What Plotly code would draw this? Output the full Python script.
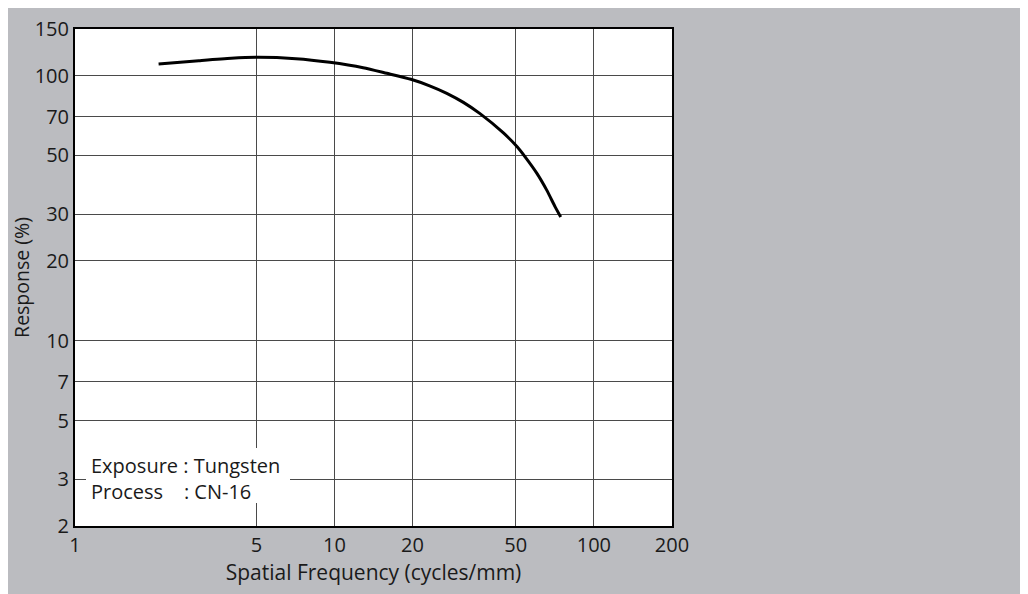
import plotly.graph_objects as go
import math

# Data
freq = [2.1, 3, 4, 5.1, 7.1, 9.6, 12.9, 15.9, 19.7, 23.4, 27.1, 31.4, 36.4, 44.8, 50.6, 54.3, 60.3, 65.8, 70.9, 74.5]
response = [110.7, 113.9, 116.3, 117.3, 115.9, 112.3, 107.2, 102.1, 96.9, 91.4, 85.8, 79.3, 71.9, 60.8, 53.9, 49.4, 42.8, 37.0, 32.0, 29.3]

x_ticks = [1, 5, 10, 20, 50, 100, 200]
y_ticks = [2, 3, 5, 7, 10, 20, 30, 50, 70, 100, 150]

note_lines = ["Exposure : Tungsten", "Process\u00a0\u00a0\u00a0\u00a0: CN-16"]

GRAY = "#bbbcc0"
FONT = "Open Sans"
TXT = "#1a1a1a"

W, H = 1028, 594
L, R, T, B = 67, 364, 21, 76
pw, ph = W - L - R, H - T - B
# page pixel -> paper coords (page is offset by 8px body margin)
OFF = 8
def px(xp):
    return (xp - OFF - L) / pw
def py(yp):
    return (H - B - (yp - OFF)) / ph

fig = go.Figure()
fig.add_trace(go.Scatter(
    x=freq, y=response, mode="lines",
    line=dict(color="black", width=3, shape="spline", smoothing=0.6),
    hoverinfo="skip", showlegend=False,
))

axis_common = dict(
    showline=True, linecolor="black", linewidth=2, mirror=True,
    showgrid=True, gridcolor="#4a4a4a", gridwidth=1,
    ticks="", zeroline=False,
    tickfont=dict(family=FONT, size=20, color=TXT),
)

fig.update_xaxes(
    type="log", range=[0, math.log10(200)],
    tickmode="array", tickvals=x_ticks, ticktext=[str(v) for v in x_ticks],
    title=dict(text="Spatial Frequency (cycles/mm)", font=dict(family=FONT, size=21, color=TXT), standoff=0),
    **axis_common,
)
fig.update_yaxes(
    type="log", range=[math.log10(2), math.log10(150)],
    tickmode="array", tickvals=y_ticks, ticktext=[str(v) for v in y_ticks],
    title=dict(text="Response (%)", font=dict(family=FONT, size=19.5, color=TXT), standoff=4),
    **axis_common,
)

# white box behind the note
fig.add_shape(type="rect", xref="paper", yref="paper",
              x0=px(86), x1=px(290), y0=py(503), y1=py(448),
              fillcolor="white", line=dict(width=0), layer="above")

fig.add_annotation(xref="paper", yref="paper", x=px(90), y=py(478.5),
                   xanchor="left", yanchor="middle", text="<br>".join(note_lines),
                   align="left", showarrow=False, borderpad=0,
                   font=dict(family=FONT, size=20, color=TXT))

fig.update_layout(
    width=W, height=H,
    margin=dict(l=L, r=R, t=T, b=B, autoexpand=False),
    paper_bgcolor=GRAY, plot_bgcolor="white",
    font=dict(family=FONT),
    showlegend=False,
)

fig.write_html("out.html")
